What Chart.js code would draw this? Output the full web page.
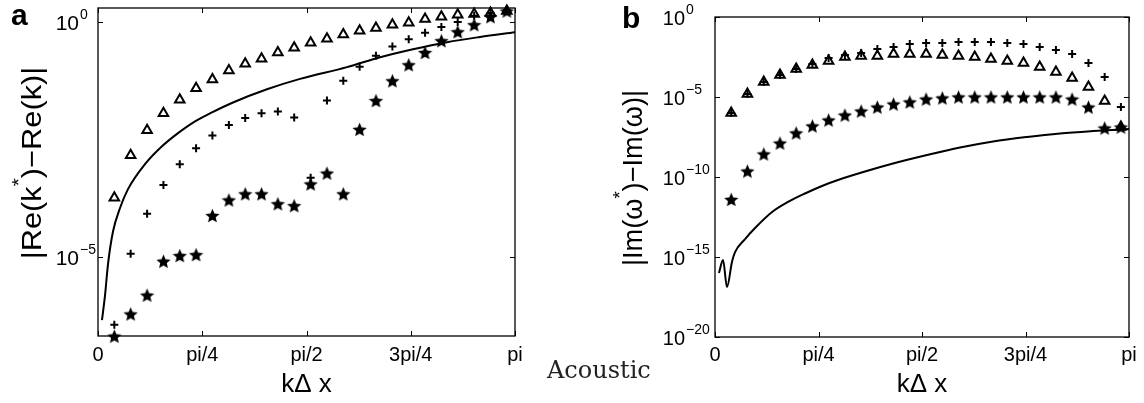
<!DOCTYPE html>
<html>
<head>
<meta charset="utf-8">
<script src="https://cdn.jsdelivr.net/npm/chart.js"></script>
<style>
  body { margin: 0; background: #fff; width: 1144px; height: 403px; overflow: hidden; position: relative; }
  canvas { position: absolute; top: 0; }
  #left { left: 0; }
  #right { left: 570px; }
  #caption { position: absolute; left: 547px; top: 358px; font: 24px "DejaVu Serif", serif; line-height: 24px; color: #222; }
</style>
</head>
<body>
<canvas id="left" width="570" height="403"></canvas>
<canvas id="right" width="574" height="403"></canvas>
<div id="caption">Acoustic</div>
<script>
// k*dx sample points (same grid in both panels)
var kPoints = [0.123, 0.246, 0.370, 0.493, 0.616, 0.739, 0.862, 0.986, 1.109, 1.232, 1.355, 1.478, 1.602,
               1.725, 1.848, 1.971, 2.094, 2.218, 2.341, 2.464, 2.587, 2.710, 2.834, 2.957, 3.080];

// panel a, log10 of |Re(k*)-Re(k)|
var reTriangle = [-3.73, -2.83, -2.30, -1.94, -1.65, -1.41, -1.22, -1.03, -0.89, -0.78, -0.65, -0.55, -0.44,
                  -0.36, -0.27, -0.19, -0.13, -0.06, -0.02, 0.06, 0.11, 0.15, 0.17, 0.19, 0.23];
var rePlus = [-6.43, -4.92, -4.07, -3.46, -3.02, -2.68, -2.41, -2.19, -2.04, -1.94, -1.90, -2.03, -3.31,
              -1.67, -1.25, -0.95, -0.72, -0.52, -0.37, -0.23, -0.11, 0.00, 0.13, 0.19, 0.25];
var reStar = [-6.67, -6.20, -5.80, -5.08, -4.96, -4.94, -4.11, -3.78, -3.65, -3.65, -3.86, -3.90, -3.44,
              -3.21, -3.65, -2.28, -1.67, -1.25, -0.91, -0.65, -0.40, -0.21, -0.06, 0.11, 0.23];
var reLineK = [0.030, 0.053, 0.075, 0.113, 0.166, 0.226, 0.354, 0.482, 0.603, 0.731, 0.859, 1.017, 1.273,
               1.522, 1.876, 2.125, 2.373, 2.629, 2.878, 3.141];
var reLine = [-6.33, -5.80, -5.15, -4.45, -3.95, -3.55, -3.02, -2.64, -2.36, -2.11, -1.92, -1.71, -1.43,
              -1.21, -0.96, -0.75, -0.58, -0.43, -0.32, -0.22];

// panel b, log10 of |Im(w*)-Im(w)|
var imTriangle = [-6.00, -4.81, -4.06, -3.63, -3.25, -3.00, -2.75, -2.50, -2.44, -2.44, -2.31, -2.31, -2.31,
                  -2.38, -2.44, -2.50, -2.63, -2.75, -2.88, -3.13, -3.44, -3.81, -4.38, -5.25, -6.88];
var imPlus = [-6.00, -4.81, -4.06, -3.63, -3.25, -2.94, -2.56, -2.38, -2.25, -2.00, -1.88, -1.69, -1.63,
              -1.63, -1.56, -1.56, -1.56, -1.63, -1.69, -1.88, -2.06, -2.31, -2.88, -3.75, -5.63];
var imStar = [-11.40, -9.63, -8.56, -7.88, -7.25, -6.81, -6.44, -6.13, -5.88, -5.63, -5.44, -5.31, -5.13,
              -5.06, -5.00, -5.00, -5.00, -5.00, -5.00, -5.00, -5.00, -5.13, -5.63, -6.94, -6.88];
var imLineK = [0.030, 0.061, 0.091, 0.129, 0.152, 0.228, 0.304, 0.433, 0.554, 0.683, 0.812, 0.933, 1.138,
               1.351, 1.609, 1.859, 2.110, 2.368, 2.618, 2.868, 3.141];
var imLine = [-16.0, -15.19, -16.88, -15.3, -14.69, -13.88, -13.19, -12.19, -11.56, -11.03, -10.56, -10.19, -9.66,
              -9.16, -8.63, -8.16, -7.78, -7.5, -7.28, -7.13, -7.0];

// axes
var xTickValues = [0, Math.PI / 4, Math.PI / 2, 3 * Math.PI / 4, Math.PI];
var xTickLabels = ['0', 'pi/4', 'pi/2', '3pi/4', 'pi'];
var reYExps = [0, -5];
var imYExps = [0, -5, -10, -15, -20];
var reYRange = [-6.667, 0.295];
var imYRange = [-20, 0];

var sans = '"Liberation Sans", Arial, Helvetica, sans-serif';

function pts(ks, logs) {
  return ks.map(function(k, i) { return {x: k, y: Math.pow(10, logs[i])}; });
}

function starImage(size) {
  var c = document.createElement('canvas');
  c.width = c.height = size;
  var g = c.getContext('2d');
  var R = size / 2, r = R * 0.46;
  g.beginPath();
  for (var i = 0; i < 10; i++) {
    var a = -Math.PI / 2 + i * Math.PI / 5;
    var rr = (i % 2) ? r : R;
    g.lineTo(R + rr * Math.cos(a), R + 0.8 + rr * Math.sin(a));
  }
  g.closePath();
  g.fillStyle = '#000';
  g.fill();
  return c;
}
var star = starImage(15);

// box, inward ticks, tick labels, titles
var frame = {
  id: 'frame',
  beforeDatasetsDraw: function(chart, args, o) {
    var ctx = chart.ctx, a = chart.chartArea, xs = chart.scales.x, ys = chart.scales.y;
    ctx.save();
    ctx.strokeStyle = '#000';
    ctx.lineWidth = 1.3;
    ctx.strokeRect(a.left, a.top, a.right - a.left, a.bottom - a.top);
    ctx.lineWidth = 1;
    ctx.beginPath();
    xTickValues.forEach(function(v) {
      var px = Math.round(xs.getPixelForValue(v)) + 0.5;
      ctx.moveTo(px, a.bottom); ctx.lineTo(px, a.bottom - 5);
      ctx.moveTo(px, a.top); ctx.lineTo(px, a.top + 5);
    });
    o.yExps.forEach(function(e) {
      var py = Math.round(ys.getPixelForValue(Math.pow(10, e))) + 0.5;
      ctx.moveTo(a.left, py); ctx.lineTo(a.left + 5, py);
      ctx.moveTo(a.right, py); ctx.lineTo(a.right - 5, py);
    });
    ctx.stroke();
    ctx.restore();
  },
  afterDraw: function(chart, args, o) {
    var ctx = chart.ctx, a = chart.chartArea, xs = chart.scales.x, ys = chart.scales.y;
    ctx.save();
    ctx.fillStyle = '#000';
    ctx.textBaseline = 'alphabetic';

    // x tick labels
    ctx.font = '20px ' + sans;
    ctx.textAlign = 'center';
    xTickValues.forEach(function(v, i) {
      ctx.fillText(xTickLabels[i], xs.getPixelForValue(v), 361);
    });

    // y tick labels 10^e
    o.yExps.forEach(function(e) {
      var py = ys.getPixelForValue(Math.pow(10, e));
      ctx.font = o.tickSize + 'px ' + sans;
      ctx.textAlign = 'right';
      ctx.fillText('10', o.yLabelRight, py + 8);
      ctx.font = '14px ' + sans;
      ctx.textAlign = 'left';
      ctx.fillText(e === 0 ? '0' : '\u2212' + (-e), o.yLabelRight + 1, py - 3);
    });

    // x title
    ctx.font = '26px ' + sans;
    ctx.textAlign = 'center';
    ctx.fillText('k\u0394 x', (a.left + a.right) / 2, 392);

    // y title, rotated, with superscript star
    ctx.translate(o.yTitleX, o.yTitleY);
    ctx.rotate(-Math.PI / 2);
    ctx.scale(o.yTitleStretch, 1);
    ctx.textAlign = 'left';
    ctx.font = '28px ' + sans;
    var w1 = ctx.measureText(o.yTitle[0]).width;
    var w3 = ctx.measureText(o.yTitle[1]).width;
    ctx.font = '19px ' + sans;
    var w2 = ctx.measureText('*').width;
    var x0 = -(w1 + w2 + w3) / 2;
    ctx.font = '28px ' + sans;
    ctx.fillText(o.yTitle[0], x0, 0);
    ctx.font = '19px ' + sans;
    ctx.fillText('*', x0 + w1, -16);
    ctx.font = '28px ' + sans;
    ctx.fillText(o.yTitle[1], x0 + w1 + w2, 0);
    ctx.setTransform(1, 0, 0, 1, 0, 0);

    // panel letter
    ctx.font = 'bold 30px ' + sans;
    ctx.fillText(o.letter, o.letterX, o.letterY);
    ctx.restore();
  }
};

function makePanel(id, pad, yRange, sets, fopts) {
  new Chart(document.getElementById(id), {
    type: 'scatter',
    data: {
      datasets: [
        { data: sets.star, pointStyle: star, pointRadius: 7, clip: false },
        { data: sets.plus, pointStyle: 'cross', pointRadius: 4, borderColor: '#000', borderWidth: 2, clip: false },
        { data: sets.tri, pointStyle: 'triangle', pointRadius: 5.5, borderColor: '#000', backgroundColor: 'rgba(0,0,0,0)', borderWidth: 2, clip: false },
        { data: sets.line, showLine: true, pointRadius: 0, borderColor: '#000', borderWidth: 2,
          cubicInterpolationMode: 'monotone', fill: false }
      ]
    },
    options: {
      responsive: false,
      animation: false,
      devicePixelRatio: 1,
      layout: { padding: pad },
      plugins: { legend: { display: false }, tooltip: { enabled: false }, frame: fopts },
      scales: {
        x: { type: 'linear', min: 0, max: Math.PI, display: false },
        y: { type: 'logarithmic', min: Math.pow(10, yRange[0]), max: Math.pow(10, yRange[1]), display: false }
      }
    },
    plugins: [frame]
  });
}

makePanel('left', { left: 98, top: 6, right: 55, bottom: 67 }, reYRange, {
  star: pts(kPoints, reStar), plus: pts(kPoints, rePlus), tri: pts(kPoints, reTriangle), line: pts(reLineK, reLine)
}, {
  yExps: reYExps, yLabelRight: 79, tickSize: 21, yTitle: ['|Re(k', ')\u2212Re(k)|'],
  yTitleX: 41, yTitleY: 163, yTitleStretch: 1.1,
  letter: 'a', letterX: 11, letterY: 25
});

makePanel('right', { left: 145, top: 17, right: 15, bottom: 66 }, imYRange, {
  star: pts(kPoints, imStar), plus: pts(kPoints, imPlus), tri: pts(kPoints, imTriangle), line: pts(imLineK, imLine)
}, {
  yExps: imYExps, yLabelRight: 115, tickSize: 20, yTitle: ['|Im(\u03c9', ')\u2212Im(\u03c9)|'],
  yTitleX: 72, yTitleY: 178, yTitleStretch: 0.97,
  letter: 'b', letterX: 52, letterY: 28
});
</script>
</body>
</html>
